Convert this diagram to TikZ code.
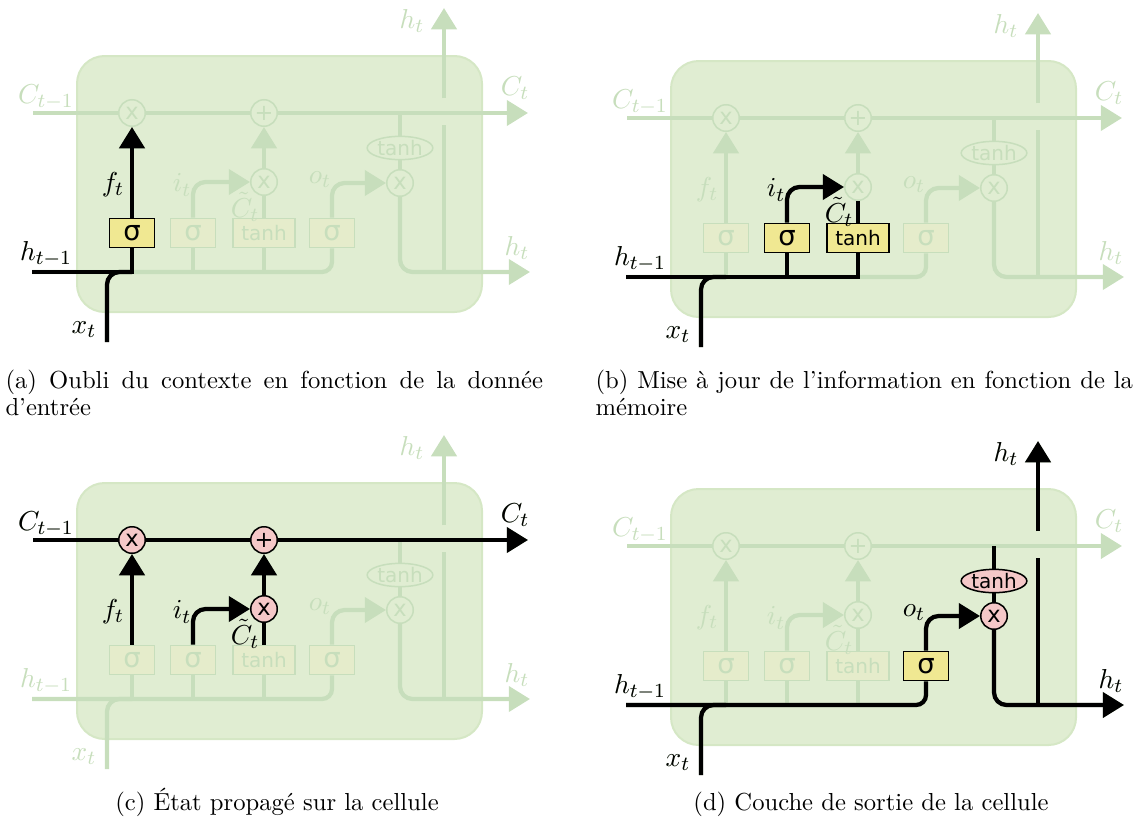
\documentclass[tikz,border=0pt]{standalone}
\usepackage{amsmath}
\usepackage{fontspec}
\newfontfamily\gatefont{DejaVu Sans}
\usetikzlibrary{arrows.meta,shapes.geometric}
\definecolor{cellfill}{RGB}{224,237,210}
\definecolor{cellrim}{RGB}{213,231,197}
\definecolor{fade}{RGB}{199,222,188}
\definecolor{fadebox}{RGB}{229,236,203}
\definecolor{gateyellow}{RGB}{240,232,146}
\definecolor{gatepink}{RGB}{245,200,200}

\begin{document}
\begin{tikzpicture}[x=0.4pt,y=-0.4pt,
  wire/.style={line width=1.7pt,draw=fade},
  hotwire/.style={line width=1.7pt,draw=black},
  flow/.style={-{Triangle[width=10pt,length=8.5pt]}},
  gate/.style={circle,draw=fade,fill=cellfill,text=fade,line width=0.6pt,minimum size=10.6pt,inner sep=0pt,font=\gatefont\fontsize{9}{9}\selectfont},
  hotgate/.style={gate,draw=black,fill=gatepink,text=black},
  layer/.style={rectangle,draw=fade,fill=fadebox,text=fade,line width=0.7pt,minimum width=18pt,minimum height=11.6pt,inner sep=0pt,font=\gatefont\fontsize{11}{11}\selectfont},
  wide/.style={minimum width=24.8pt,font=\gatefont\fontsize{8}{8}\selectfont},
  hotlayer/.style={layer,draw=black,fill=gateyellow,text=black},
  squash/.style={ellipse,draw=fade,fill=cellfill,text=fade,line width=0.6pt,inner sep=0.2pt,minimum width=25pt,minimum height=7.8pt,font=\gatefont\fontsize{8}{8}\selectfont},
  hotsquash/.style={squash,draw=black,fill=gatepink,text=black},
  lbl/.style={text=fade,inner sep=0pt,font=\fontsize{10.95}{13}\selectfont},
  hotlbl/.style={lbl,text=black},
  caption/.style={inner sep=0pt,font=\fontsize{9.85}{10.8}\selectfont}]
\useasboundingbox (0,0) rectangle (1143,820);

% faded cell, once per panel
\foreach \p/\dx/\dy in {a/0/0,b/594/5,c/0/427,d/594/433}{
\begin{scope}[shift={(\dx,\dy)}]
\draw[cellrim,fill=cellfill,line width=0.8pt,rounded corners=11pt] (77,56) rectangle (482,312); % cell body
\coordinate (\p-c0) at (33,113);
\coordinate (\p-c1) at (528,113);
\coordinate (\p-h0) at (32,272);
\coordinate (\p-hr) at (530,272);
\coordinate (\p-x0) at (107,342);
\coordinate (\p-ht) at (444,8);
\coordinate (\p-g0) at (444,125);
\coordinate (\p-g1) at (444,98);
\coordinate (\p-g2) at (444,272);
\node[gate] (\p-fx) at (132,113) {x};
\node[gate] (\p-pl) at (264,113) {+};
\node[gate] (\p-ix) at (264,182) {x};
\node[gate] (\p-ox) at (400,183) {x};
\node[squash] (\p-th) at (400,148) {tanh};
\node[layer] (\p-fs) at (132,233) {σ};
\node[layer] (\p-is) at (193,233) {σ};
\node[layer,wide] (\p-ts) at (264,233) {tanh};
\node[layer] (\p-os) at (332,233) {σ};
\draw[wire,flow] (\p-c0) -- (\p-fx) -- (\p-pl) -- (\p-c1); % cell state
\draw[wire,rounded corners=4pt] (\p-h0) -| (\p-os);
\draw[wire,rounded corners=5pt] (\p-x0) |- (\p-fs.south |- \p-h0);
\draw[wire] (\p-fs) -- (\p-fs |- \p-h0);
\draw[wire] (\p-is) -- (\p-is |- \p-h0);
\draw[wire] (\p-ts) -- (\p-ts |- \p-h0);
\draw[wire,flow] (\p-fs) -- (\p-fx);
\draw[wire,flow,rounded corners=5pt] (\p-is) |- (\p-ix);
\draw[wire] (\p-ts) -- (\p-ix);
\draw[wire,flow] (\p-ix) -- (\p-pl);
\draw[wire,flow,rounded corners=5pt] (\p-os) |- (\p-ox);
\draw[wire] (\p-ox) -- (\p-th);
\draw[wire] (\p-th) -- (\p-th |- \p-c0);
\draw[wire,flow,rounded corners=5pt] (\p-ox) |- (\p-hr);
\draw[wire] (\p-g2) -- (\p-g0);
\draw[wire,flow] (\p-g1) -- (\p-ht);
\node[lbl] (\p-lc0) at (46,97) {$C_{t-1}$};
\node[lbl] (\p-lc1) at (515,88) {$C_t$};
\node[lbl] (\p-lhu) at (412,21) {$h_t$};
\node[lbl] (\p-lhr) at (517,248) {$h_t$};
\node[lbl] (\p-lh0) at (46,254) {$h_{t-1}$};
\node[lbl] (\p-lx) at (84,330) {$x_t$};
\node[lbl] (\p-lf) at (113,185) {$f_t$};
\node[lbl] (\p-li) at (182,185) {$i_t$};
\node[lbl] (\p-lct) at (245,207) {$\tilde{C}_t$};
\node[lbl] (\p-lo) at (320,180) {$o_t$};
\end{scope}
}

% (a) forget gate
\node[hotlayer] (a-fsh) at (a-fs) {σ};
\draw[hotwire] (a-h0) -| (a-fs.south);
\draw[hotwire,rounded corners=5pt] (a-x0) |- (a-fs.south |- a-h0);
\draw[hotwire,flow] (a-fs) -- (a-fx);
\node[hotlbl] (a-lh0h) at (a-lh0) {$h_{t-1}$};
\node[hotlbl] (a-lxh) at (a-lx) {$x_t$};
\node[hotlbl] (a-lfh) at (a-lf) {$f_t$};

% (b) input gate
\node[hotlayer] (b-ish) at (b-is) {σ};
\node[hotlayer,wide] (b-tsh) at (b-ts) {tanh};
\draw[hotwire] (b-h0) -| (b-ts.south);
\draw[hotwire] (b-is.south |- b-h0) -- (b-is.south);
\draw[hotwire,rounded corners=5pt] (b-x0) |- (b-fs.south |- b-h0);
\draw[hotwire,flow,rounded corners=5pt] (b-is) |- (b-ix);
\draw[hotwire] (b-ts) -- (b-ix);
\node[hotlbl] (b-lh0h) at (b-lh0) {$h_{t-1}$};
\node[hotlbl] (b-lxh) at (b-lx) {$x_t$};
\node[hotlbl] (b-lih) at (b-li) {$i_t$};
\node[hotlbl] (b-lcth) at (b-lct) {$\tilde{C}_t$};

% (c) cell state
\draw[hotwire,flow] (c-c0) -- (c-fx) -- (c-pl) -- (c-c1);
\node[hotgate] (c-fxh) at (c-fx) {x};
\node[hotgate] (c-plh) at (c-pl) {+};
\node[hotgate] (c-ixh) at (c-ix) {x};
\draw[hotwire,flow] (c-fs) -- (c-fxh);
\draw[hotwire,flow,rounded corners=5pt] (c-is) |- (c-ixh);
\draw[hotwire] (c-ts) -- (c-ixh);
\draw[hotwire,flow] (c-ixh) -- (c-plh);
\node[hotlbl] (c-lc0h) at (c-lc0) {$C_{t-1}$};
\node[hotlbl] (c-lc1h) at (c-lc1) {$C_t$};
\node[hotlbl] (c-lfh) at (c-lf) {$f_t$};
\node[hotlbl] (c-lih) at (c-li) {$i_t$};
\node[hotlbl] (c-lcth) at (c-lct) {$\tilde{C}_t$};

% (d) output gate
\node[hotlayer] (d-osh) at (d-os) {σ};
\node[hotgate] (d-oxh) at (d-ox) {x};
\node[hotsquash] (d-thh) at (d-th) {tanh};
\draw[hotwire,rounded corners=4pt] (d-h0) -| (d-osh);
\draw[hotwire,rounded corners=5pt] (d-x0) |- (d-fs.south |- d-h0);
\draw[hotwire,flow,rounded corners=5pt] (d-osh) |- (d-oxh);
\draw[hotwire] (d-oxh) -- (d-thh);
\draw[hotwire] (d-thh) -- (d-thh |- d-c0);
\draw[hotwire,flow,rounded corners=5pt] (d-oxh) |- (d-hr);
\draw[hotwire] (d-g2) -- (d-g0);
\draw[hotwire,flow] (d-g1) -- (d-ht);
\node[hotlbl] (d-lh0h) at (d-lh0) {$h_{t-1}$};
\node[hotlbl] (d-lxh) at (d-lx) {$x_t$};
\node[hotlbl] (d-loh) at (d-lo) {$o_t$};
\node[hotlbl] (d-lhuh) at (d-lhu) {$h_t$};
\node[hotlbl] (d-lhrh) at (d-lhr) {$h_t$};

% captions
\node[caption,anchor=north west,text width=215pt,align=justify] (capa) at (5,370) {(a) Oubli du contexte en fonction de la donnée d'entrée};
\node[caption,anchor=north west,text width=215pt,align=justify] (capb) at (595,370) {(b) Mise à jour de l'information en fonction de la mémoire};
\node[caption,anchor=base] (capc) at (277,810) {(c) État propagé sur la cellule};
\node[caption,anchor=base] (capd) at (871,810) {(d) Couche de sortie de la cellule};
\end{tikzpicture}
\end{document}
